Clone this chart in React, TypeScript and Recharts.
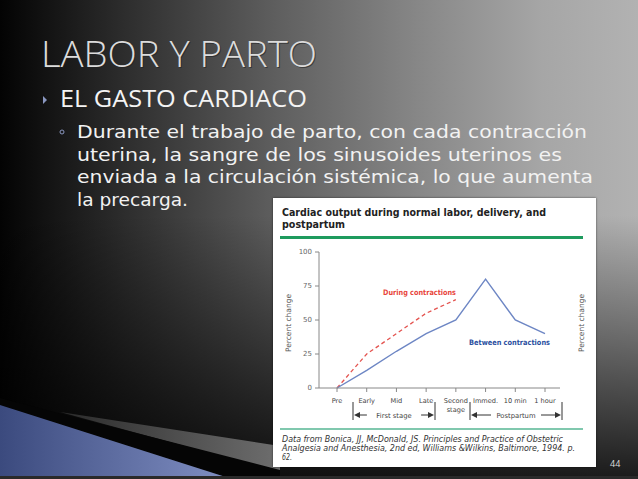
import { LineChart, Line, XAxis, YAxis } from 'recharts';

// stages along the x axis
const stages = ['Pre', 'Early', 'Mid', 'Late', 'Second stage', 'Immed.', '10 min', '1 hour'];
// percent change in cardiac output
const betweenContractions = [0, 13, 27, 40, 50, 80, 50, 40];
const duringContractions = [0, 25, 40, 55, 65, null, null, null];
const yTicks = [0, 25, 50, 75, 100];

const bodyLines = [
  'Durante el trabajo de parto, con cada contracción',
  'uterina, la sangre de los sinusoides uterinos es',
  'enviada a la circulación sistémica, lo que aumenta',
  'la precarga.',
];
const bodyWidths = [510, 485, 516, 111];

const footnote = [
  'Data from Bonica, JJ, McDonald, JS. Principles and Practice of Obstetric',
  'Analgesia and Anesthesia, 2nd ed, Williams &Wilkins, Baltimore, 1994. p.',
  '62.',
];
const footWidths = [281, 293, 10];

const data = stages.map((stage, i) => ({
  stage,
  between: betweenContractions[i],
  during: duringContractions[i],
}));

const panelFont = '"DejaVu Sans", Verdana, sans-serif';

function StageTick(props: any) {
  const { x, y, payload } = props;
  const lines = payload.value === 'Second stage' ? ['Second', 'stage'] : [payload.value];
  return (
    <text x={x} y={y + 9} textAnchor="middle" fontSize={6.6} fill="#444" fontFamily={panelFont}>
      {lines.map((l: string, i: number) => (
        <tspan key={l} x={x} dy={i === 0 ? 0 : 9}>{l}</tspan>
      ))}
    </text>
  );
}

function Bracket({ x1, x2, label }: { x1: number; x2: number; label: string }) {
  const mid = (x1 + x2) / 2;
  const half = label.length * 2.1 + 4;
  const y = 217;
  return (
    <g stroke="#333" fill="#333">
      <line x1={x1} y1={204} x2={x1} y2={222} strokeWidth={1} />
      <line x1={x2} y1={204} x2={x2} y2={222} strokeWidth={1} />
      <line x1={x1 + 5} y1={y} x2={mid - half} y2={y} strokeWidth={1} />
      <line x1={mid + half} y1={y} x2={x2 - 5} y2={y} strokeWidth={1} />
      <polygon points={`${x1 + 1},${y} ${x1 + 7},${y - 3} ${x1 + 7},${y + 3}`} stroke="none" />
      <polygon points={`${x2 - 1},${y} ${x2 - 7},${y - 3} ${x2 - 7},${y + 3}`} stroke="none" />
      <text x={mid} y={y + 2.5} textAnchor="middle" fontSize={6.8} stroke="none" fill="#444" fontFamily={panelFont}>
        {label}
      </text>
    </g>
  );
}

export default function App() {
  return (
    <div
      style={{
        position: 'absolute',
        left: 0,
        top: 0,
        width: 638,
        height: 479,
        overflow: 'hidden',
        background:
          'linear-gradient(to bottom, rgba(0,0,0,0) 0%, rgba(0,0,0,0) 45%, rgba(0,0,0,0.55) 80%, rgba(0,0,0,0.85) 100%), linear-gradient(to right, #030303 0%, #2e2e2e 20%, #5c5c5c 42%, #868686 65%, #a6a6a6 85%, #b2b2b2 100%)',
      }}
    >
      <svg width={638} height={479} style={{ position: 'absolute', left: 0, top: 0 }}>
        <defs>
          <linearGradient id="blueWedge" x1="0" y1="0" x2="1" y2="0">
            <stop offset="0" stopColor="#3b4a7e" />
            <stop offset="1" stopColor="#8190c4" />
          </linearGradient>
          <linearGradient id="grayWedge" x1="0" y1="0" x2="1" y2="0">
            <stop offset="0" stopColor="#2a2a2a" />
            <stop offset="1" stopColor="#6e6e6e" />
          </linearGradient>
        </defs>
        <polygon points="60,412 280,446 280,472" fill="url(#grayWedge)" />
        <polygon points="0,398 280,470 280,479 232,479 0,405" fill="#050505" />
        <polygon points="0,405 232,479 0,479" fill="url(#blueWedge)" />
        <rect x={0} y={476} width={638} height={3} fill="#2a2a2a" />

        <text x={42} y={68} fontSize={36} fontWeight={300} fill="#222" opacity={0.6}
          fontFamily='"Open Sans", sans-serif' textLength={276} lengthAdjust="spacingAndGlyphs">LABOR Y PARTO</text>
        <text x={41} y={67} fontSize={36} fontWeight={300} fill="#dcdcdc"
          fontFamily='"Open Sans", sans-serif' textLength={276} lengthAdjust="spacingAndGlyphs">LABOR Y PARTO</text>

        <polygon points="43,96 47,100 43,104" fill="#8a97c0" />
        <text x={60} y={107} fontSize={24} fill="#f4f4f4" fontFamily='"Open Sans", sans-serif'
          textLength={247} lengthAdjust="spacingAndGlyphs">EL GASTO CARDIACO</text>

        <circle cx={62} cy={132} r={2} fill="none" stroke="#8a97c0" strokeWidth={1} />
        {bodyLines.map((line, i) => (
          <text key={line} x={77} y={138 + i * 22.7} fontSize={18.5} fill="#f2f2f2"
            fontFamily='"DejaVu Sans", sans-serif' textLength={bodyWidths[i]} lengthAdjust="spacingAndGlyphs">
            {line}
          </text>
        ))}

        <text x={610} y={467} fontSize={9} fill="#dddddd" fontFamily='"Open Sans", sans-serif'>44</text>
      </svg>

      <div
        style={{
          position: 'absolute',
          left: 273,
          top: 198,
          width: 323,
          height: 269,
          background: '#fff',
          boxShadow: '0 0 2px rgba(0,0,0,0.6)',
        }}
      >
        <LineChart
          width={323}
          height={269}
          data={data}
          margin={{ top: 54, right: 36, left: 0, bottom: 0 }}
          style={{ position: 'absolute', left: 0, top: 0 }}
        >
          <XAxis
            dataKey="stage"
            height={79}
            padding={{ left: 18, right: 15 }}
            tickSize={4}
            tickMargin={2}
            interval={0}
            tick={<StageTick />}
            axisLine={{ stroke: '#888' }}
            tickLine={{ stroke: '#888' }}
          />
          <YAxis
            width={46}
            domain={[0, 100]}
            ticks={yTicks}
            tickSize={4}
            tickMargin={3}
            tick={{ fontSize: 7, fill: '#666', fontFamily: panelFont }}
            axisLine={{ stroke: '#888' }}
            tickLine={{ stroke: '#888' }}
          />
          <Line
            dataKey="during"
            stroke="#e4534f"
            strokeWidth={1.3}
            strokeDasharray="4 3"
            dot={false}
            isAnimationActive={false}
          />
          <Line
            dataKey="between"
            stroke="#6d86c4"
            strokeWidth={1.4}
            dot={false}
            isAnimationActive={false}
          />
        </LineChart>

        <svg width={323} height={269} style={{ position: 'absolute', left: 0, top: 0, pointerEvents: 'none' }}>
          <text x={9} y={18} fontSize={11} fontWeight="bold" fill="#222" fontFamily={panelFont}
            textLength={264} lengthAdjust="spacingAndGlyphs">Cardiac output during normal labor, delivery, and</text>
          <text x={9} y={30} fontSize={11} fontWeight="bold" fill="#222" fontFamily={panelFont}
            textLength={63} lengthAdjust="spacingAndGlyphs">postpartum</text>
          <line x1={7} y1={39.5} x2={310} y2={39.5} stroke="#1e9b5e" strokeWidth={3} />

          <text x={18} y={125} transform="rotate(-90 18 125)" textAnchor="middle" fontSize={7.5}
            fill="#555" fontFamily={panelFont}>Percent change</text>
          <text x={311} y={125} transform="rotate(-90 311 125)" textAnchor="middle" fontSize={7.5}
            fill="#555" fontFamily={panelFont}>Percent change</text>

          <text x={110} y={97} fontSize={7.5} fontWeight="bold" fill="#e8453c" fontFamily={panelFont}
            textLength={73} lengthAdjust="spacingAndGlyphs">During contractions</text>
          <text x={196} y={147} fontSize={7.5} fontWeight="bold" fill="#2b4fa0" fontFamily={panelFont}
            textLength={81} lengthAdjust="spacingAndGlyphs">Between contractions</text>

          <Bracket x1={80} x2={162} label="First stage" />
          <Bracket x1={197} x2={289} label="Postpartum" />

          <line x1={7} y1={231} x2={310} y2={231} stroke="#80c8ae" strokeWidth={2} />
          {footnote.map((line, i) => (
            <text key={line} x={9} y={244 + i * 9} fontSize={8.3} fontStyle="italic" fill="#333"
              fontFamily={panelFont} textLength={footWidths[i]} lengthAdjust="spacingAndGlyphs">
              {line}
            </text>
          ))}
        </svg>
      </div>
    </div>
  );
}
